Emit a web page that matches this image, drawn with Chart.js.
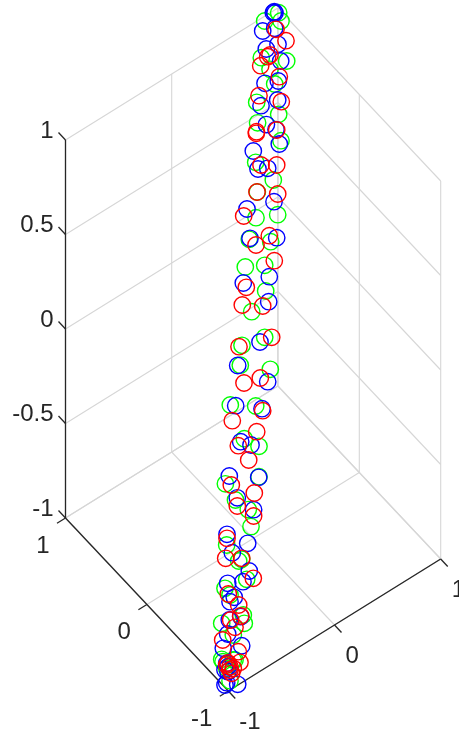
<!DOCTYPE html>
<html>
<head>
<meta charset="utf-8">
<style>
  html, body { margin: 0; padding: 0; background: #ffffff; overflow: hidden; }
  canvas { display: block; }
</style>
<script src="https://cdn.jsdelivr.net/npm/chart.js@4"></script>
</head>
<body>
<canvas id="plot" width="459" height="735"></canvas>
<script>
// Axis ticks
const xTicks = [-1, 0, 1];
const yTicks = [-1, 0, 1];
const zTicks = [-1, -0.5, 0, 0.5, 1];
const xTickLabels = ["-1", "0", "1"];
const yTickLabels = ["-1", "0", "1"];
const zTickLabels = ["-1", "-0.5", "0", "0.5", "1"];

const redX = [276, 286, 270, 267.7, 260.7, 279.3, 259, 281.3, 256.5, 276.7, 256.3, 261, 276.7, 257, 277.7, 243.7, 269.3, 256, 274.3, 246.3, 242.3, 262.7, 271.7, 239, 260.3, 244, 262.7, 232.3, 256.7, 238.3, 248.7, 231.3, 254.3, 237.3, 253.6, 227, 225.7, 241.7, 253.3, 228.3, 238.7, 240.7, 230.7, 235, 222.7, 238.3, 240, 226.7, 230, 233.3, 231.7, 228, 230];
const redY = [29.3, 40.7, 55, 56.7, 65.7, 76.7, 95.7, 101.7, 131.7, 130, 133.3, 165, 165, 192, 194, 216, 235.7, 245, 260.7, 287.3, 305, 306, 337.3, 346.7, 378, 383, 410.7, 420.7, 431.7, 445.7, 460, 485, 493, 506, 516, 538.3, 558.3, 558.3, 578.3, 594, 605, 616, 620, 627.3, 640, 651.7, 662.3, 665, 666.7, 668.3, 673.3, 663, 670];
const greenX = [278.7, 264.7, 281, 261.3, 286.7, 270, 274.7, 256.7, 278.7, 257.6, 281, 255.7, 273.3, 257.3, 256, 277.7, 249.3, 270.7, 245.3, 264.7, 265.7, 251.7, 264.7, 242, 240.3, 270.3, 230.3, 255.7, 244.3, 259, 259, 225.4, 235.5, 248.3, 251, 226.7, 241.7, 238.7, 246.7, 225, 230, 243.3, 221.7, 244.3, 233.3, 221.7, 233.3, 226.7, 230, 223, 235];
const greenY = [12.7, 21, 21, 57.7, 61, 69.3, 84, 102.3, 114.3, 122.8, 140.7, 162.3, 180, 192, 217.7, 214.7, 239.3, 241.7, 267, 265.3, 291, 311.7, 337.3, 345.3, 365.2, 369.3, 405, 406, 438.7, 446.3, 476.7, 483.8, 500, 509.6, 526.6, 545, 559.3, 561, 579.3, 588.3, 595, 615, 623.3, 623.3, 635, 659.3, 660, 668.3, 680.7, 661.7, 660];
const blueX = [274.3, 273.3, 275, 262.7, 274.7, 278, 266.3, 280.7, 265, 278.3, 261, 277.7, 266.4, 276, 279.3, 253.3, 258, 267.7, 274, 247, 250, 276.7, 269.3, 243.3, 268.7, 260, 237.7, 267.7, 235.7, 262, 240.7, 251, 229.3, 258.7, 237.3, 253.6, 227, 247.7, 232.3, 249.3, 243, 227.7, 234.3, 230, 240.7, 229.3, 227.7, 241.7, 223.3, 226.7, 226.7, 237.7, 228, 228, 225, 225];
const blueY = [11.7, 12.7, 13, 31, 28.3, 44.3, 49, 61, 83.3, 81, 105.7, 100, 124.6, 129.6, 144, 151, 169, 168.3, 201.7, 209, 238.3, 237.7, 276.7, 283, 301.7, 342, 365.5, 381.7, 405.7, 408.7, 441.7, 445, 476, 477.3, 497.8, 509.7, 534.3, 543.3, 552.7, 571, 581.7, 583.3, 597.3, 601.7, 616.6, 620, 634, 645.7, 648.3, 663.3, 682.7, 684.3, 666.7, 671.7, 670, 685];

// Corners of the box floor on the page, z span of the box
const cornerOrigin = { x: 228.3, y: 691 };
const cornerRight = { x: 440.7, y: 559 };
const cornerLeft = { x: 65.5, y: 518 };
const boxHeight = 378;

const gridColor = "#d6d6d6";
const axisColor = "#262626";
const textColor = "#262626";
const labelFont = '24px "Liberation Sans", Arial, sans-serif';

// Maps a box coordinate to the plane the chart's scales cover
function project(x, y, z) {
  const u = (x + 1) / 2;
  const v = (y + 1) / 2;
  const w = (z + 1) / 2;
  return {
    x: cornerOrigin.x + u * (cornerRight.x - cornerOrigin.x) + v * (cornerLeft.x - cornerOrigin.x),
    y: cornerOrigin.y + u * (cornerRight.y - cornerOrigin.y) + v * (cornerLeft.y - cornerOrigin.y) - w * boxHeight,
  };
}

function segment(a, b, color, width, order) {
  return {
    type: "scatter",
    showLine: true,
    data: [project(a[0], a[1], a[2]), project(b[0], b[1], b[2])],
    borderColor: color,
    borderWidth: width,
    pointRadius: 0,
    order: order,
  };
}

function markers(xs, ys, color, order) {
  return {
    type: "scatter",
    data: xs.map((x, i) => ({ x: x, y: ys[i] })),
    showLine: false,
    pointStyle: "circle",
    pointRadius: 8.2,
    pointBorderWidth: 1.4,
    pointBorderColor: color,
    pointBackgroundColor: "rgba(0,0,0,0)",
    order: order,
  };
}

const datasets = [
  markers(redX, redY, "#ff0000", 0),
  markers(blueX, blueY, "#0000ff", 1),
  markers(greenX, greenY, "#00ff00", 2),
];

// Grid on the floor and the two back walls
xTicks.forEach((x) => {
  datasets.push(segment([x, -1, -1], [x, 1, -1], gridColor, 1.1, 5));
  datasets.push(segment([x, 1, -1], [x, 1, 1], gridColor, 1.1, 5));
});
yTicks.forEach((y) => {
  datasets.push(segment([-1, y, -1], [1, y, -1], gridColor, 1.1, 5));
  datasets.push(segment([1, y, -1], [1, y, 1], gridColor, 1.1, 5));
});
zTicks.forEach((z) => {
  datasets.push(segment([-1, 1, z], [1, 1, z], gridColor, 1.1, 5));
  datasets.push(segment([1, 1, z], [1, -1, z], gridColor, 1.1, 5));
});

// Axis lines and tick marks
datasets.push(segment([-1, -1, -1], [1, -1, -1], axisColor, 1.3, 4));
datasets.push(segment([-1, -1, -1], [-1, 1, -1], axisColor, 1.3, 4));
datasets.push(segment([-1, 1, -1], [-1, 1, 1], axisColor, 1.3, 4));
xTicks.forEach((x) => datasets.push(segment([x, -1, -1], [x, -1.086, -1], axisColor, 1.3, 4)));
yTicks.forEach((y) => datasets.push(segment([-1, y, -1], [-1.08, y, -1], axisColor, 1.3, 4)));
zTicks.forEach((z) => datasets.push(segment([-1, 1, z], [-1, 1.086, z], axisColor, 1.3, 4)));

// Tick labels have no cartesian axis to sit on, so they go on through the scales here
const tickLabelPlugin = {
  id: "tickLabels",
  afterDatasetsDraw(chart) {
    const ctx = chart.ctx;
    const sx = chart.scales.x;
    const sy = chart.scales.y;
    const put = (text, p, dx, dy, align) => {
      ctx.textAlign = align;
      ctx.fillText(text, sx.getPixelForValue(p.x) + dx, sy.getPixelForValue(p.y) + dy);
    };
    ctx.save();
    ctx.font = labelFont;
    ctx.fillStyle = textColor;
    ctx.textBaseline = "middle";
    zTicks.forEach((z, i) => put(zTickLabels[i], project(-1, 1, z), -12, -9, "right"));
    yTicks.forEach((y, i) => put(yTickLabels[i], project(-1, y, -1), -16, 28, "right"));
    xTicks.forEach((x, i) => put(xTickLabels[i], project(x, -1, -1), 11, 31, "left"));
    ctx.restore();
  },
};

new Chart(document.getElementById("plot"), {
  type: "scatter",
  data: { datasets: datasets },
  options: {
    responsive: false,
    animation: false,
    layout: { padding: 0, autoPadding: false },
    plugins: { legend: { display: false }, tooltip: { enabled: false } },
    scales: {
      x: { type: "linear", min: 0, max: 459, display: false },
      y: { type: "linear", min: 0, max: 735, reverse: true, display: false },
    },
  },
  plugins: [tickLabelPlugin],
});
</script>
</body>
</html>
